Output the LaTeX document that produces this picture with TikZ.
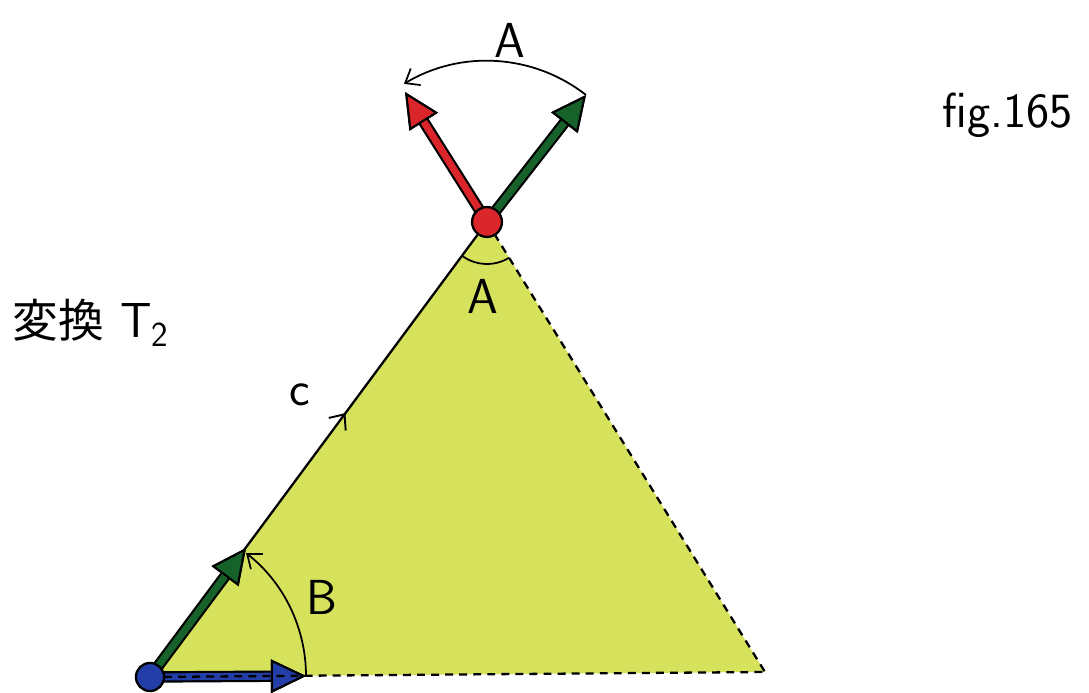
\documentclass[tikz,border=0pt]{standalone}
\usepackage{fontspec}
\newfontfamily\jpfont{Noto Sans CJK JP}
\usetikzlibrary{arrows.meta,decorations.markings}
\definecolor{leaf}{RGB}{214,225,92}
\definecolor{vecred}{RGB}{218,38,42}
\definecolor{vecgreen}{RGB}{22,98,42}
\definecolor{vecblue}{RGB}{36,62,168}
\begin{document}
\begin{tikzpicture}[x=0.02cm, y=0.02cm,
  edge/.style={line width=1.3pt},
  dashedge/.style={line width=1.3pt, dash pattern=on 4.5pt off 3.5pt},
  anglearc/.style={line width=1pt},
  barb/.style={-{Straight Barb[length=7pt,width=11pt,line width=1pt]}},
  midbarb/.style={postaction={decorate}, decoration={markings,
    mark=at position 0.58 with {\arrow{Straight Barb[length=7pt,width=12pt,line width=1.1pt]}}}},
  lab/.style={font=\sffamily\fontsize{28}{28}\selectfont, inner sep=0pt},
  vertex/.style={circle, draw, line width=1.3pt, inner sep=0pt}
]
\useasboundingbox (0,0) rectangle (1089,693);
% triangle corners and vector tips
\coordinate (P) at (150,16);
\coordinate (Q) at (487,471);
\coordinate (R) at (765,21);
\coordinate (tipB) at (306,17);
\coordinate (tipG) at (246,145);
\coordinate (tipR) at (405,601);
\coordinate (tipT) at (586,598);

\fill[leaf] (P) -- (Q) -- (R) -- cycle;
\draw[edge, midbarb] (P) -- (Q);
\draw[dashedge] (Q) -- (R);

% angle arcs
\draw[anglearc, barb] (tipB) arc[start angle=0, end angle=52, radius=156];
\draw[anglearc, barb] (tipT) arc[start angle=52, end angle=121, radius=161];
\draw[anglearc] (Q) ++(233.5:42) arc[start angle=233.5, end angle=302, radius=42];

% vectors
\foreach \s/\e/\c in {P/tipB/vecblue, P/tipG/vecgreen, Q/tipR/vecred, Q/tipT/vecgreen} {
  \draw[line width=6.5pt, -{Triangle[length=20pt,width=19pt,line width=1.2pt]}] (\s) -- (\e);
  \draw[line width=4pt, \c, -{Triangle[length=20pt,width=19pt,color=black,fill=\c,line width=1.2pt]}] (\s) -- (\e);
}
\draw[dashedge] (P) -- (R);

\node[vertex, fill=vecblue, minimum size=16pt] (Pdot) at (P) {};
\node[vertex, fill=vecred, minimum size=17pt] (Qdot) at (Q) {};

% labels
\node[lab] (Atop) at (510,653) {A};
\node[lab] (Ain) at (483,397) {A};
\node[lab] (clab) at (300,298) {c};
\node[lab] (Blab) at (322,96) {B};
\node[lab] (fig) at (1008,578) {fig.165};
\node[lab, anchor=west] (trans) at (12,370) {{\jpfont\fontsize{26}{26}\selectfont 変換}\,\,T\textsubscript{\fontsize{20}{20}\selectfont 2}};
\end{tikzpicture}
\end{document}
